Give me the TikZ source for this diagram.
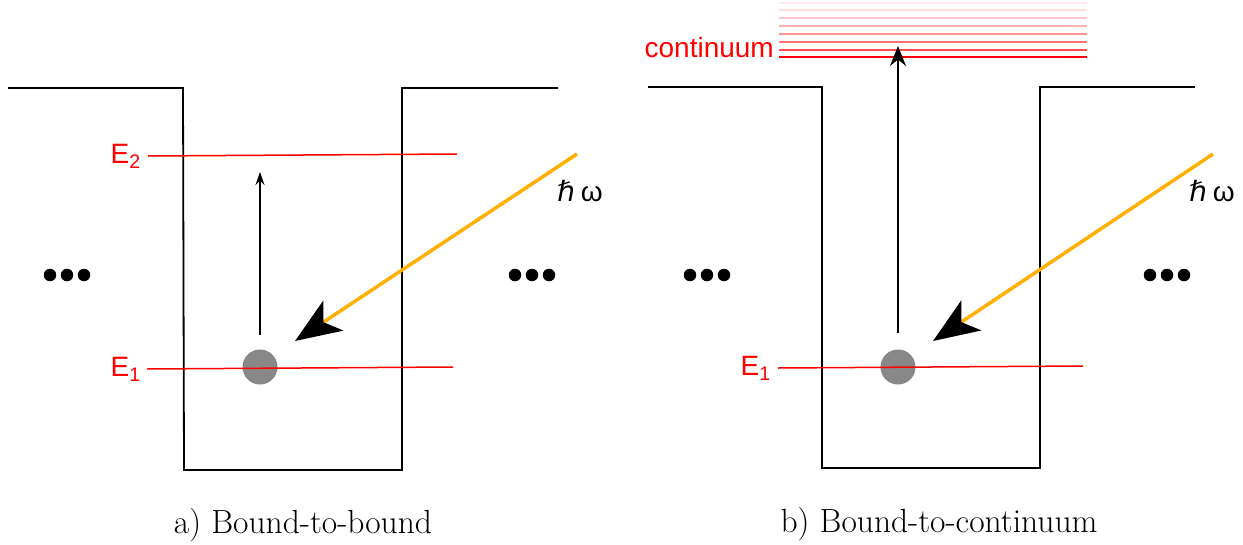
\documentclass[tikz,border=0pt]{standalone}
\usepackage{fontspec}
\setmainfont{Latin Modern Roman}
\newfontfamily\labfont{Liberation Sans}
\newfontfamily\djv{DejaVu Sans}
\usetikzlibrary{arrows.meta}
\definecolor{myorange}{RGB}{255,176,0}
\definecolor{mygray}{RGB}{136,136,136}
\tikzset{
  well/.style={draw=black, line width=1.8pt},
  level/.style={draw=red, line width=1.5pt},
  lbl/.style={text=red, font=\labfont\fontsize{28}{32}\selectfont, inner sep=0pt},
  particle/.style={circle, fill=mygray, minimum size=35pt, inner sep=0pt},
  photon/.style={draw=myorange, line width=3.5pt, -{Stealth[length=46pt,width=36pt,inset=12pt,fill=black,color=black]}},
  excite/.style={draw=black, line width=1.3pt, -{Stealth[length=13pt,width=9pt]}},
  exciteb/.style={draw=black, line width=1.6pt, -{Stealth[length=20pt,width=16pt]}},
  dot/.style={circle, fill=black, minimum size=12.5pt, inner sep=0pt},
  hw/.style={font=\labfont\fontsize{28}{32}\selectfont, inner sep=0pt},
  caption/.style={font=\fontsize{33.5}{38}\selectfont, inner sep=0pt},
}
\newcommand{\hbw}{{\djv\itshape ℏ}\hspace{6pt}ω}
\begin{document}
\begin{tikzpicture}[x=1pt,y=-1pt]
\useasboundingbox (0,0) rectangle (1243,544);
% ---------- panel a ----------
\draw[well] (8,88) -- (183,88) -- (184,470) -- (402,470) -- (402,88) -- (558,88);
\node[particle] (pa) at (260,367) {};
\draw[level] (148,156) coordinate (e2a) -- (457,154);
\draw[level] (147,369) coordinate (e1a) -- (453,367);
\node[lbl, anchor=east] (E2a) at (141,156) {E\textsubscript{2}};
\node[lbl, anchor=east] (E1a) at (141,369) {E\textsubscript{1}};
\coordinate (ua) at (260,172);
\draw[excite] (260,335) -- (ua);
\coordinate (sa) at (577,154);
\coordinate (ta) at (295,341);
\draw[photon] (sa) -- (ta);
\node[hw] (hwa) at (580,191) {\hbw};
\node[dot] (d1) at (50,275) {};
\node[dot] (d2) at (67,275) {};
\node[dot] (d3) at (84,275) {};
\node[dot] (d4) at (515,275) {};
\node[dot] (d5) at (532,275) {};
\node[dot] (d6) at (549,275) {};
\node[caption] (capa) at (303,525) {a) Bound-to-bound};
% ---------- panel b ----------
\foreach \yy/\op in {3/8,10/14,18/22,26/30,34/42,42/55,50/70,57/100}{
  \draw[draw=red!\op!white, line width=1.5pt] (779,\yy) -- (1087,\yy);
}
\node[lbl, anchor=east] (cont) at (774,47) {continuum};
\draw[well] (648,87) -- (822,87) -- (822,468) -- (1040,468) -- (1040,87) -- (1195,87);
\node[particle] (pb) at (898,367) {};
\draw[level] (778,368) coordinate (e1b) -- (1083,366);
\node[lbl, anchor=east] (E1b) at (771,368) {E\textsubscript{1}};
\coordinate (ub) at (898,46);
\draw[exciteb] (898,333) -- (ub);
\coordinate (sb) at (1213,154);
\coordinate (tb) at (933,341);
\draw[photon] (sb) -- (tb);
\node[hw] (hwb) at (1212,191) {\hbw};
\node[dot] (d7) at (690,275) {};
\node[dot] (d8) at (707,275) {};
\node[dot] (d9) at (724,275) {};
\node[dot] (d10) at (1150,275) {};
\node[dot] (d11) at (1167,275) {};
\node[dot] (d12) at (1184,275) {};
\node[caption] (capb) at (939,524) {b) Bound-to-continuum};
\end{tikzpicture}
\end{document}
